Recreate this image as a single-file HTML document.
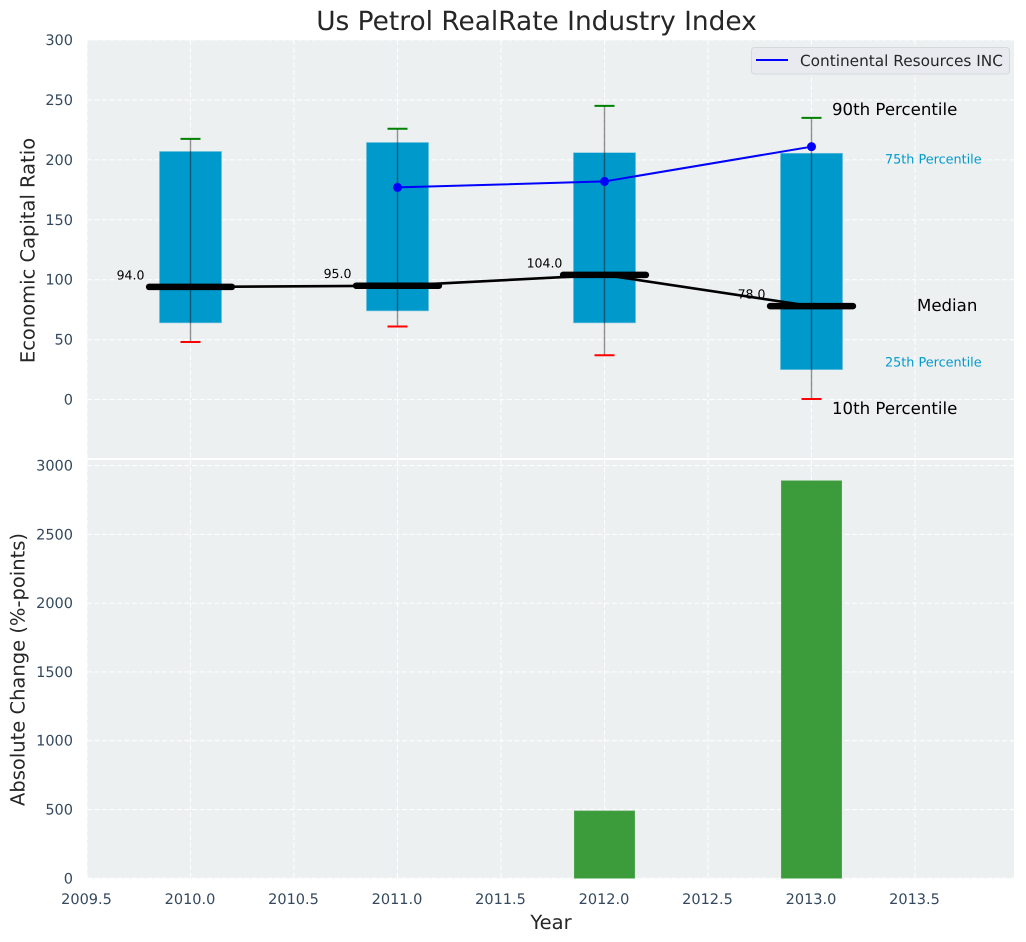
<!DOCTYPE html>
<html lang="en">
<head>
<meta charset="utf-8">
<title>Us Petrol RealRate Industry Index</title>
<style>
html,body{margin:0;padding:0;background:#fff;}
svg{display:block;font-family:"DejaVu Sans","Liberation Sans",sans-serif;text-rendering:geometricPrecision;}
</style>
</head>
<body>
<svg id="chart" xmlns="http://www.w3.org/2000/svg" width="1026" height="942" viewBox="0 0 1026 942">
  <rect x="87" y="40" width="927" height="418" fill="#ecf0f1"/>
  <rect x="87" y="460" width="927" height="418.5" fill="#ecf0f1"/>
  <g id="grid"></g>
  <g id="marks"></g>
  <g id="labels"></g>
  <text x="536.5" y="30" text-anchor="middle" font-size="26.4" fill="#262626">Us Petrol RealRate Industry Index</text>
  <text transform="translate(34.5,250.5) rotate(-90)" text-anchor="middle" font-size="19.5" fill="#262626">Economic Capital Ratio</text>
  <text transform="translate(24.5,669.5) rotate(-90)" text-anchor="middle" font-size="19.5" fill="#262626">Absolute Change (%-points)</text>
  <text x="551" y="929" text-anchor="middle" font-size="19.5" fill="#262626">Year</text>
  <g>
    <rect x="751.5" y="47.5" width="258" height="26.5" rx="3" fill="#e8eaf0" stroke="#d6d9dc" stroke-width="1"/>
    <line x1="756" y1="60" x2="788" y2="60" stroke="#0000ff" stroke-width="2"/>
    <text x="800" y="66" font-size="15.3" fill="#262626">Continental Resources INC</text>
  </g>
  <text x="832" y="115" font-size="16.6" fill="#000">90th Percentile</text>
  <text x="885" y="163.5" font-size="12.8" fill="#0099cc">75th Percentile</text>
  <text x="917" y="311" font-size="16.6" fill="#000">Median</text>
  <text x="885" y="366.5" font-size="12.8" fill="#0099cc">25th Percentile</text>
  <text x="832" y="414" font-size="16.6" fill="#000">10th Percentile</text>
</svg>
<script>
const years = [2010, 2011, 2012, 2013];
const p10 = [48, 61, 37, 0.5];
const p25 = [64, 74, 64, 25];
const median = [94, 95, 104, 78];
const p75 = [207, 214.5, 206, 205.5];
const p90 = [217.5, 226, 245, 235];
const companyYears = [2011, 2012, 2013];
const companyValues = [177, 182, 211];
const changeYears = [2012, 2013];
const changeValues = [490, 2890];
const xTicks = [2009.5, 2010, 2010.5, 2011, 2011.5, 2012, 2012.5, 2013, 2013.5];
const xTickLabels = ["2009.5", "2010.0", "2010.5", "2011.0", "2011.5", "2012.0", "2012.5", "2013.0", "2013.5"];
const topYTicks = [0, 50, 100, 150, 200, 250, 300];
const bottomYTicks = [0, 500, 1000, 1500, 2000, 2500, 3000];

const NS = "http://www.w3.org/2000/svg";
const gridG = document.getElementById("grid");
const marksG = document.getElementById("marks");
const labelsG = document.getElementById("labels");

function xScale(v) { return 190.5 + (v - 2010) * 207; }
function yTop(v) { return 399.6 - v * 1.1987; }
function yBottom(v) { return 878.3 - v * 0.13757; }

function make(tag, attrs, parent, text) {
  const el = document.createElementNS(NS, tag);
  for (const k in attrs) el.setAttribute(k, attrs[k]);
  if (text !== undefined) el.textContent = text;
  parent.appendChild(el);
  return el;
}
const gridStyle = { stroke: "#ffffff", "stroke-width": 1.1, "stroke-dasharray": "5 2.5", fill: "none", opacity: 0.9 };

xTicks.forEach(function (t, i) {
  const x = xScale(t);
  const a = make("line", Object.assign({ x1: x, x2: x, y1: 40, y2: 458 }, gridStyle), gridG);
  
  
  const b = make("line", Object.assign({ x1: x, x2: x, y1: 460, y2: 878.5 }, gridStyle), gridG);
  
  
  const lab = make("text", { x: x - 0.5, y: 904, "text-anchor": "middle", "font-size": 14.5, fill: "#34495e" }, labelsG, xTickLabels[i]);
  
  
});
topYTicks.forEach(function (t) {
  const y = yTop(t);
  const g = make("line", Object.assign({ x1: 87, x2: 1014, y1: y, y2: y }, gridStyle), gridG);
  
  
  const lab = make("text", { x: 73, y: y + 5, "text-anchor": "end", "font-size": 14.5, fill: "#34495e" }, labelsG, String(t));
  
  
});
bottomYTicks.forEach(function (t) {
  const y = yBottom(t);
  const g = make("line", Object.assign({ x1: 87, x2: 1014, y1: y, y2: y }, gridStyle), gridG);
  
  
  const lab = make("text", { x: 73, y: y + 5, "text-anchor": "end", "font-size": 14.5, fill: "#34495e" }, labelsG, String(t));
  
  
});

const boxHalf = 0.15 * 207;
const medianHalf = 0.2 * 207;
const capHalf = 10;

years.forEach(function (yr, i) {
  const x = xScale(yr);
  const box = make("rect", { x: x - boxHalf, y: yTop(p75[i]), width: boxHalf * 2, height: yTop(p25[i]) - yTop(p75[i]), fill: "#0099cc", stroke: "#7cc6e0", "stroke-width": 0.6 }, marksG);
  
  
  const whisker = make("line", { x1: x, x2: x, y1: yTop(p10[i]), y2: yTop(p90[i]), stroke: "#000", "stroke-opacity": 0.42, "stroke-width": 1.4 }, marksG);
  
  
  const capHi = make("line", { x1: x - capHalf, x2: x + capHalf, y1: yTop(p90[i]), y2: yTop(p90[i]), stroke: "#008000", "stroke-width": 2 }, marksG);
  
  
  const capLo = make("line", { x1: x - capHalf, x2: x + capHalf, y1: yTop(p10[i]), y2: yTop(p10[i]), stroke: "#ff0000", "stroke-width": 2 }, marksG);
  
  
});

const medianPath = make("polyline", { points: years.map(function (yr, i) { return xScale(yr) + "," + yTop(median[i]); }).join(" "), fill: "none", stroke: "#000", "stroke-width": 2.6 }, marksG);



years.forEach(function (yr, i) {
  const x = xScale(yr);
  const y = yTop(median[i]);
  const bar = make("line", { x1: x - medianHalf, x2: x + medianHalf, y1: y, y2: y, stroke: "#000", "stroke-width": 6.5, "stroke-linecap": "round" }, marksG);
  
  
  const lab = make("text", { x: x - 60, y: y - 7.5, "text-anchor": "middle", "font-size": 12.5, fill: "#000" }, marksG, median[i].toFixed(1));
  
  
});

const companyLine = make("polyline", { points: companyYears.map(function (yr, i) { return xScale(yr) + "," + yTop(companyValues[i]); }).join(" "), fill: "none", stroke: "#0000ff", "stroke-width": 2 }, marksG);


companyYears.forEach(function (yr, i) {
  const pt = make("circle", { cx: xScale(yr), cy: yTop(companyValues[i]), r: 4.5, fill: "#0000ff" }, marksG);
  
  
});

const barHalf = 0.146 * 207;
changeYears.forEach(function (yr, i) {
  const x = xScale(yr);
  const y = yBottom(changeValues[i]);
  const bar = make("rect", { x: x - barHalf, y: y, width: barHalf * 2, height: yBottom(0) - y, fill: "#2e962e", "fill-opacity": 0.93, stroke: "#5fae5f", "stroke-width": 0.6 }, marksG);
  
  
});
</script>
</body>
</html>
